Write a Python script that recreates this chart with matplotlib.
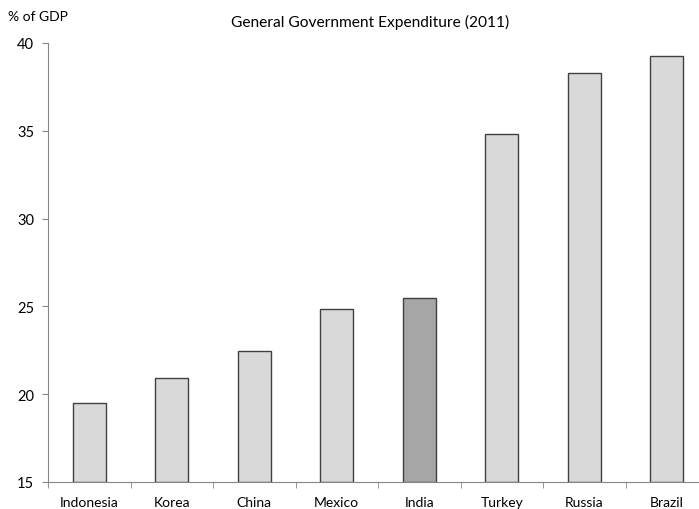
import numpy as np
import matplotlib.pyplot as plt

countries = ['Indonesia', 'Korea', 'China', 'Mexico', 'India', 'Turkey', 'Russia', 'Brazil']
expenditure = [19.5, 20.9, 22.45, 24.85, 25.5, 34.8, 38.3, 39.25]
highlight = 'India'

plt.rcParams['font.family'] = ['Lato', 'DejaVu Sans']

fig = plt.figure(figsize=(6.99, 5.1), dpi=100)
# axes extends a bit past the right edge, like the original crop
ax = fig.add_axes([48 / 699, 27 / 510, 660 / 699, 439 / 510])

x = np.arange(len(countries))
colors = ['#a6a6a6' if c == highlight else '#d9d9d9' for c in countries]
ax.bar(x, [v - 15 for v in expenditure], bottom=15, width=0.4,
       color=colors, edgecolor='#404040', linewidth=1.0)

ax.set_xlim(-0.5, len(countries) - 0.5)
ax.set_ylim(15, 40)
ax.set_yticks([15, 20, 25, 30, 35, 40])

# category labels centered, ticks on the boundaries
ax.set_xticks(x)
ax.set_xticklabels(countries, fontsize=10)
ax.tick_params(axis='x', length=0, pad=10)
ax.set_xticks(np.arange(len(countries) + 1) - 0.5, minor=True)
ax.tick_params(axis='x', which='minor', length=4, color='#868686')
ax.tick_params(axis='y', length=4, color='#868686', labelsize=10.5, pad=6)

for s in ['top', 'right']:
    ax.spines[s].set_visible(False)
for s in ['left', 'bottom']:
    ax.spines[s].set_color('#868686')

fig.text(370 / 699, 1 - 22 / 510, 'General Government Expenditure (2011)',
         ha='center', va='center', fontsize=11.2)
fig.text(8 / 699, 1 - 17 / 510, '% of GDP', ha='left', va='center', fontsize=10)

fig.savefig('out.png', dpi=100)
